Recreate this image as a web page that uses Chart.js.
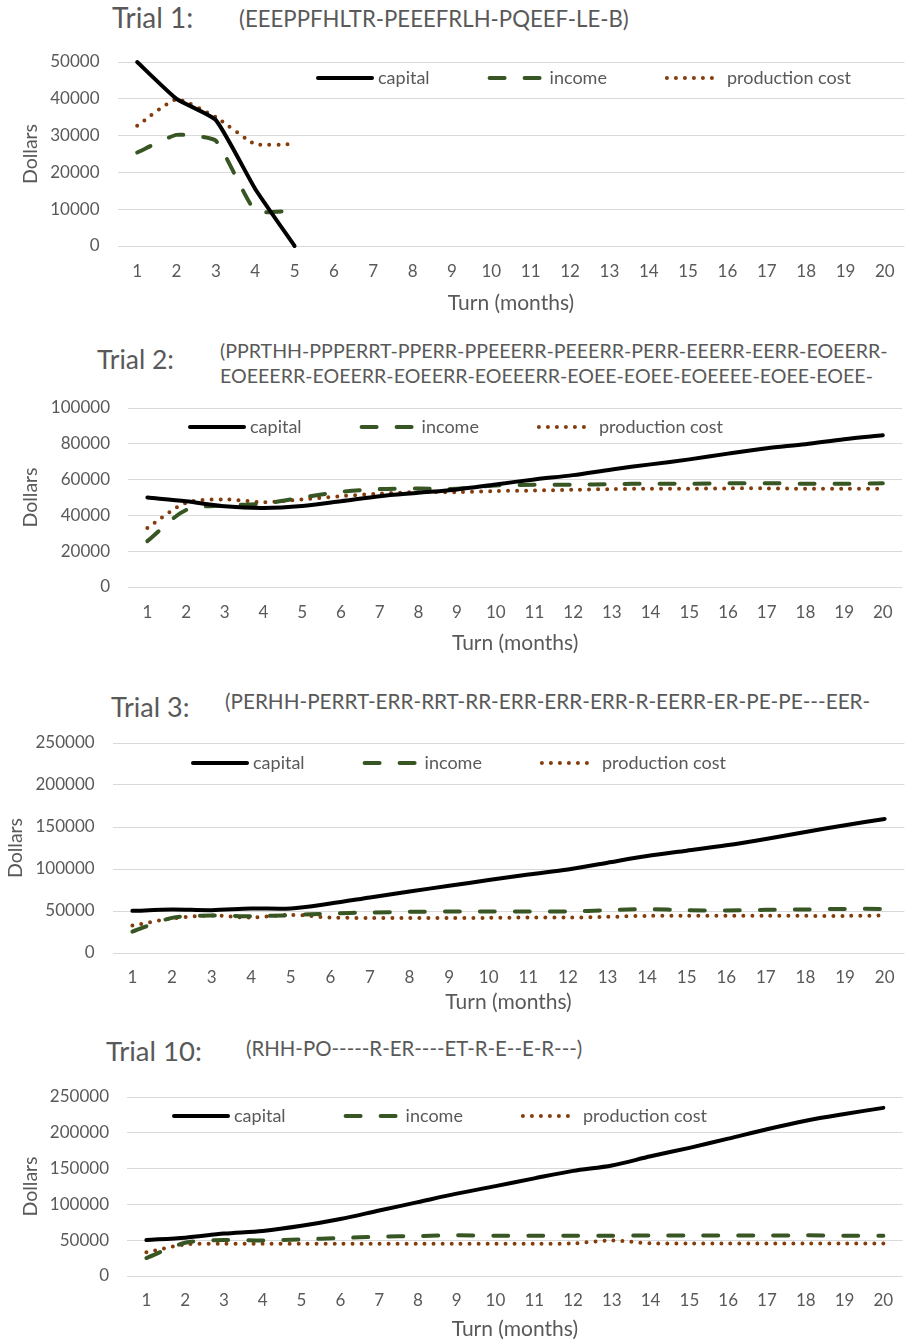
<!DOCTYPE html>
<html>
<head>
<meta charset="utf-8">
<script src="https://cdn.jsdelivr.net/npm/chart.js@4.4.1/dist/chart.umd.min.js"></script>
<style>
  html, body { margin: 0; padding: 0; background: #fff; overflow: hidden; }
  #page { position: relative; width: 907px; height: 1343px; overflow: hidden; font-family: Lato, "Open Sans", sans-serif; color: #595959; }
  .head { position: absolute; white-space: nowrap; }
  canvas { position: absolute; left: 0; }
</style>
</head>
<body>
<div id="page"></div>
<script>
const turns = ['1', '2', '3', '4', '5', '6', '7', '8', '9', '10', '11', '12', '13', '14', '15', '16', '17', '18', '19', '20'];
const seriesNames = ['capital', 'income', 'production cost'];

// Trial 1 stops after month 5
const trial1Capital = [50000, 40000, 34200, 15500, 0];
const trial1Income = [25400, 30200, 28600, 9600, 9600];
const trial1Cost = [32700, 39900, 35000, 27700, 27700];

const trial2Capital = [50000, 47900, 45100, 44200, 45300, 47900, 50700, 52600, 54500, 57300, 60100, 62500, 65700, 68500, 71300, 74500, 77500, 79800, 82600, 84800];
const trial2Income = [25600, 43000, 45500, 46600, 50000, 53200, 54700, 55000, 54900, 56700, 57100, 57100, 57500, 57700, 57700, 57900, 58000, 57700, 57700, 57900];
const trial2Cost = [33000, 47000, 48900, 47400, 48900, 50700, 52200, 53000, 53000, 53600, 53900, 54300, 54700, 54900, 54900, 55100, 55100, 54900, 54900, 54900];

const trial3Capital = [50200, 51700, 51000, 53000, 53000, 58900, 66100, 73200, 80000, 86800, 93500, 99500, 107500, 115400, 121800, 128200, 135800, 144100, 152100, 159600];
const trial3Income = [25500, 41800, 44600, 43800, 45000, 47000, 48200, 49000, 49400, 49400, 49400, 49400, 51000, 52200, 51000, 50600, 51400, 51800, 52500, 52500];
const trial3Cost = [32600, 41000, 44600, 42200, 45400, 42200, 41800, 41800, 41800, 41800, 42200, 42200, 43000, 44200, 44200, 44200, 44200, 44200, 44200, 44600];

const trial10Capital = [50200, 53500, 59200, 63000, 70100, 79500, 91400, 103200, 115000, 125500, 136400, 146800, 154400, 167200, 179000, 191800, 205000, 216900, 226300, 234800];
const trial10Income = [25100, 46400, 50200, 49700, 51100, 53000, 54900, 55900, 56800, 56300, 56300, 56300, 56300, 56500, 56500, 56500, 56500, 56800, 56300, 56300];
const trial10Cost = [33100, 44000, 45000, 45000, 45000, 45000, 45000, 45000, 45000, 45000, 45000, 45500, 49700, 45500, 45500, 45500, 45500, 45500, 45500, 45500];

const titles = ['Trial 1:', 'Trial 2:', 'Trial 3:', 'Trial 10:'];
const sequences = [
  ['(EEEPPFHLTR-PEEEFRLH-PQEEF-LE-B)'],
  ['(PPRTHH-PPPERRT-PPERR-PPEEERR-PEEERR-PERR-EEERR-EERR-EOEERR-', 'EOEEERR-EOEERR-EOEERR-EOEEERR-EOEE-EOEE-EOEEEE-EOEE-EOEE-'],
  ['(PERHH-PERRT-ERR-RRT-RR-ERR-ERR-ERR-R-EERR-ER-PE-PE---EER-'],
  ['(RHH-PO-----R-ER----ET-R-E--E-R---)']
];
const yMaxes = [50000, 100000, 250000, 250000];
const ySteps = [10000, 20000, 50000, 50000];
const trialSeries = [
  [trial1Capital, trial1Income, trial1Cost],
  [trial2Capital, trial2Income, trial2Cost],
  [trial3Capital, trial3Income, trial3Cost],
  [trial10Capital, trial10Income, trial10Cost]
];

// page layout of each excel chart (px)
const layouts = [
  { titleX: 112, titleY: 19, titleSize: 28, subX: 239, subY: 20, subSize: 22.2, subGap: 26,
    plotTop: 62, plotBottom: 246, plotLeft: 117.5, plotRight: 909.5, xLab: 25.5, xTitle: 57, yTitle: 30.5, legX: 316, legY: 78, tension: 0.15 },
  { titleX: 97, titleY: 361, titleSize: 26.5, subX: 220, subY: 351, subSize: 19.6, subGap: 25,
    plotTop: 408, plotBottom: 587, plotLeft: 128, plotRight: 908, xLab: 25.5, xTitle: 56, yTitle: 31, legX: 188, legY: 427, tension: 0.3 },
  { titleX: 111, titleY: 708, titleSize: 27, subX: 225, subY: 702, subSize: 20.7, subGap: 26,
    plotTop: 743, plotBottom: 953, plotLeft: 112.6, plotRight: 908.6, xLab: 24.7, xTitle: 49.7, yTitle: 16, legX: 191, legY: 763, tension: 0.3 },
  { titleX: 106, titleY: 1051, titleSize: 27.5, subX: 246, subY: 1049, subSize: 20.4, subGap: 26,
    plotTop: 1097, plotBottom: 1276, plotLeft: 127, plotRight: 908, xLab: 25, xTitle: 53, yTitle: 30.5, legX: 172, legY: 1116, tension: 0.3 }
];

const lineStyles = [
  { borderColor: '#000000', borderWidth: 4, borderDash: [], borderCapStyle: 'round' },
  { borderColor: '#375623', borderWidth: 4, borderDash: [15, 20], borderCapStyle: 'round' },
  { borderColor: '#843C0C', borderWidth: 4, borderDash: [0, 9], borderCapStyle: 'round' }
];

Chart.defaults.font.family = 'Lato, "Open Sans", sans-serif';
Chart.defaults.color = '#595959';

// excel style legend sitting inside the plot
const sheetLegend = {
  id: 'sheetLegend',
  afterDraw(chart, args, opts) {
    const ctx = chart.ctx;
    let x = opts.x;
    const y = opts.y;
    ctx.save();
    ctx.font = '18px Lato, "Open Sans", sans-serif';
    ctx.textBaseline = 'middle';
    ctx.fillStyle = '#595959';
    chart.data.datasets.forEach(ds => {
      ctx.beginPath();
      ctx.strokeStyle = ds.borderColor;
      ctx.lineWidth = ds.borderWidth;
      ctx.lineCap = ds.borderCapStyle;
      ctx.setLineDash(ds.borderDash);
      ctx.moveTo(x + 2, y);
      ctx.lineTo(x + 56, y);
      ctx.stroke();
      ctx.setLineDash([]);
      ctx.fillText(ds.label, x + 62, y);
      x += 62 + ctx.measureText(ds.label).width + 58;
    });
    ctx.restore();
  }
};

const page = document.getElementById('page');

layouts.forEach((L, i) => {
  const title = document.createElement('div');
  title.className = 'head';
  title.style.left = L.titleX + 'px';
  title.style.top = (L.titleY - 0.63 * L.titleSize) + 'px';
  title.style.fontSize = L.titleSize + 'px';
  title.style.lineHeight = 1.2;
  title.textContent = titles[i];
  page.appendChild(title);

  const sub = document.createElement('div');
  sub.className = 'head';
  sub.style.left = L.subX + 'px';
  sub.style.top = (L.subY - L.subGap / 2 - 0.03 * L.subSize) + 'px';
  sub.style.fontSize = L.subSize + 'px';
  sub.style.lineHeight = L.subGap + 'px';
  sub.innerHTML = sequences[i].join('<br>');
  page.appendChild(sub);

  const canvasTop = L.plotTop - 20;
  const canvas = document.createElement('canvas');
  canvas.width = Math.round(L.plotRight);
  canvas.height = Math.round(L.plotBottom - canvasTop + 70);
  canvas.style.top = canvasTop + 'px';
  page.appendChild(canvas);

  const datasets = seriesNames.map((name, k) => Object.assign({
    label: name,
    data: trialSeries[i][k],
    fill: false,
    pointRadius: 0,
    borderJoinStyle: 'round',
    tension: L.tension,
    clip: false
  }, lineStyles[k]));

  new Chart(canvas, {
    type: 'line',
    data: { labels: turns, datasets: datasets },
    options: {
      responsive: false,
      animation: false,
      layout: { padding: { top: 20, left: 0, right: 0, bottom: 0 } },
      plugins: {
        legend: { display: false },
        tooltip: { enabled: false },
        sheetLegend: { x: L.legX, y: L.legY - canvasTop }
      },
      scales: {
        x: {
          offset: true,
          grid: { display: false, drawTicks: false },
          border: { display: false },
          ticks: { padding: L.xLab - 10.2, font: { size: 17 }, maxRotation: 0, autoSkip: false },
          title: { display: true, text: 'Turn (months)', font: { size: 21 }, padding: { top: 0, bottom: 70 - L.xTitle - 12.6 } },
          afterFit: s => { s.height = 70; }
        },
        y: {
          min: 0,
          max: yMaxes[i],
          grid: { color: '#d9d9d9', lineWidth: 1, drawTicks: false },
          border: { display: false },
          ticks: { stepSize: ySteps[i], padding: 18, font: { size: 17 }, callback: v => String(v) },
          title: { display: true, text: 'Dollars', font: { size: 19.5 }, padding: { top: L.yTitle - 11.7, bottom: 0 } },
          // fixed plot box: ignore the room chart.js keeps for the end labels
          afterFit: s => { s.width = L.plotLeft; s.paddingTop = 0; s.paddingBottom = 0; }
        }
      }
    },
    plugins: [sheetLegend]
  });
});
</script>
</body>
</html>
